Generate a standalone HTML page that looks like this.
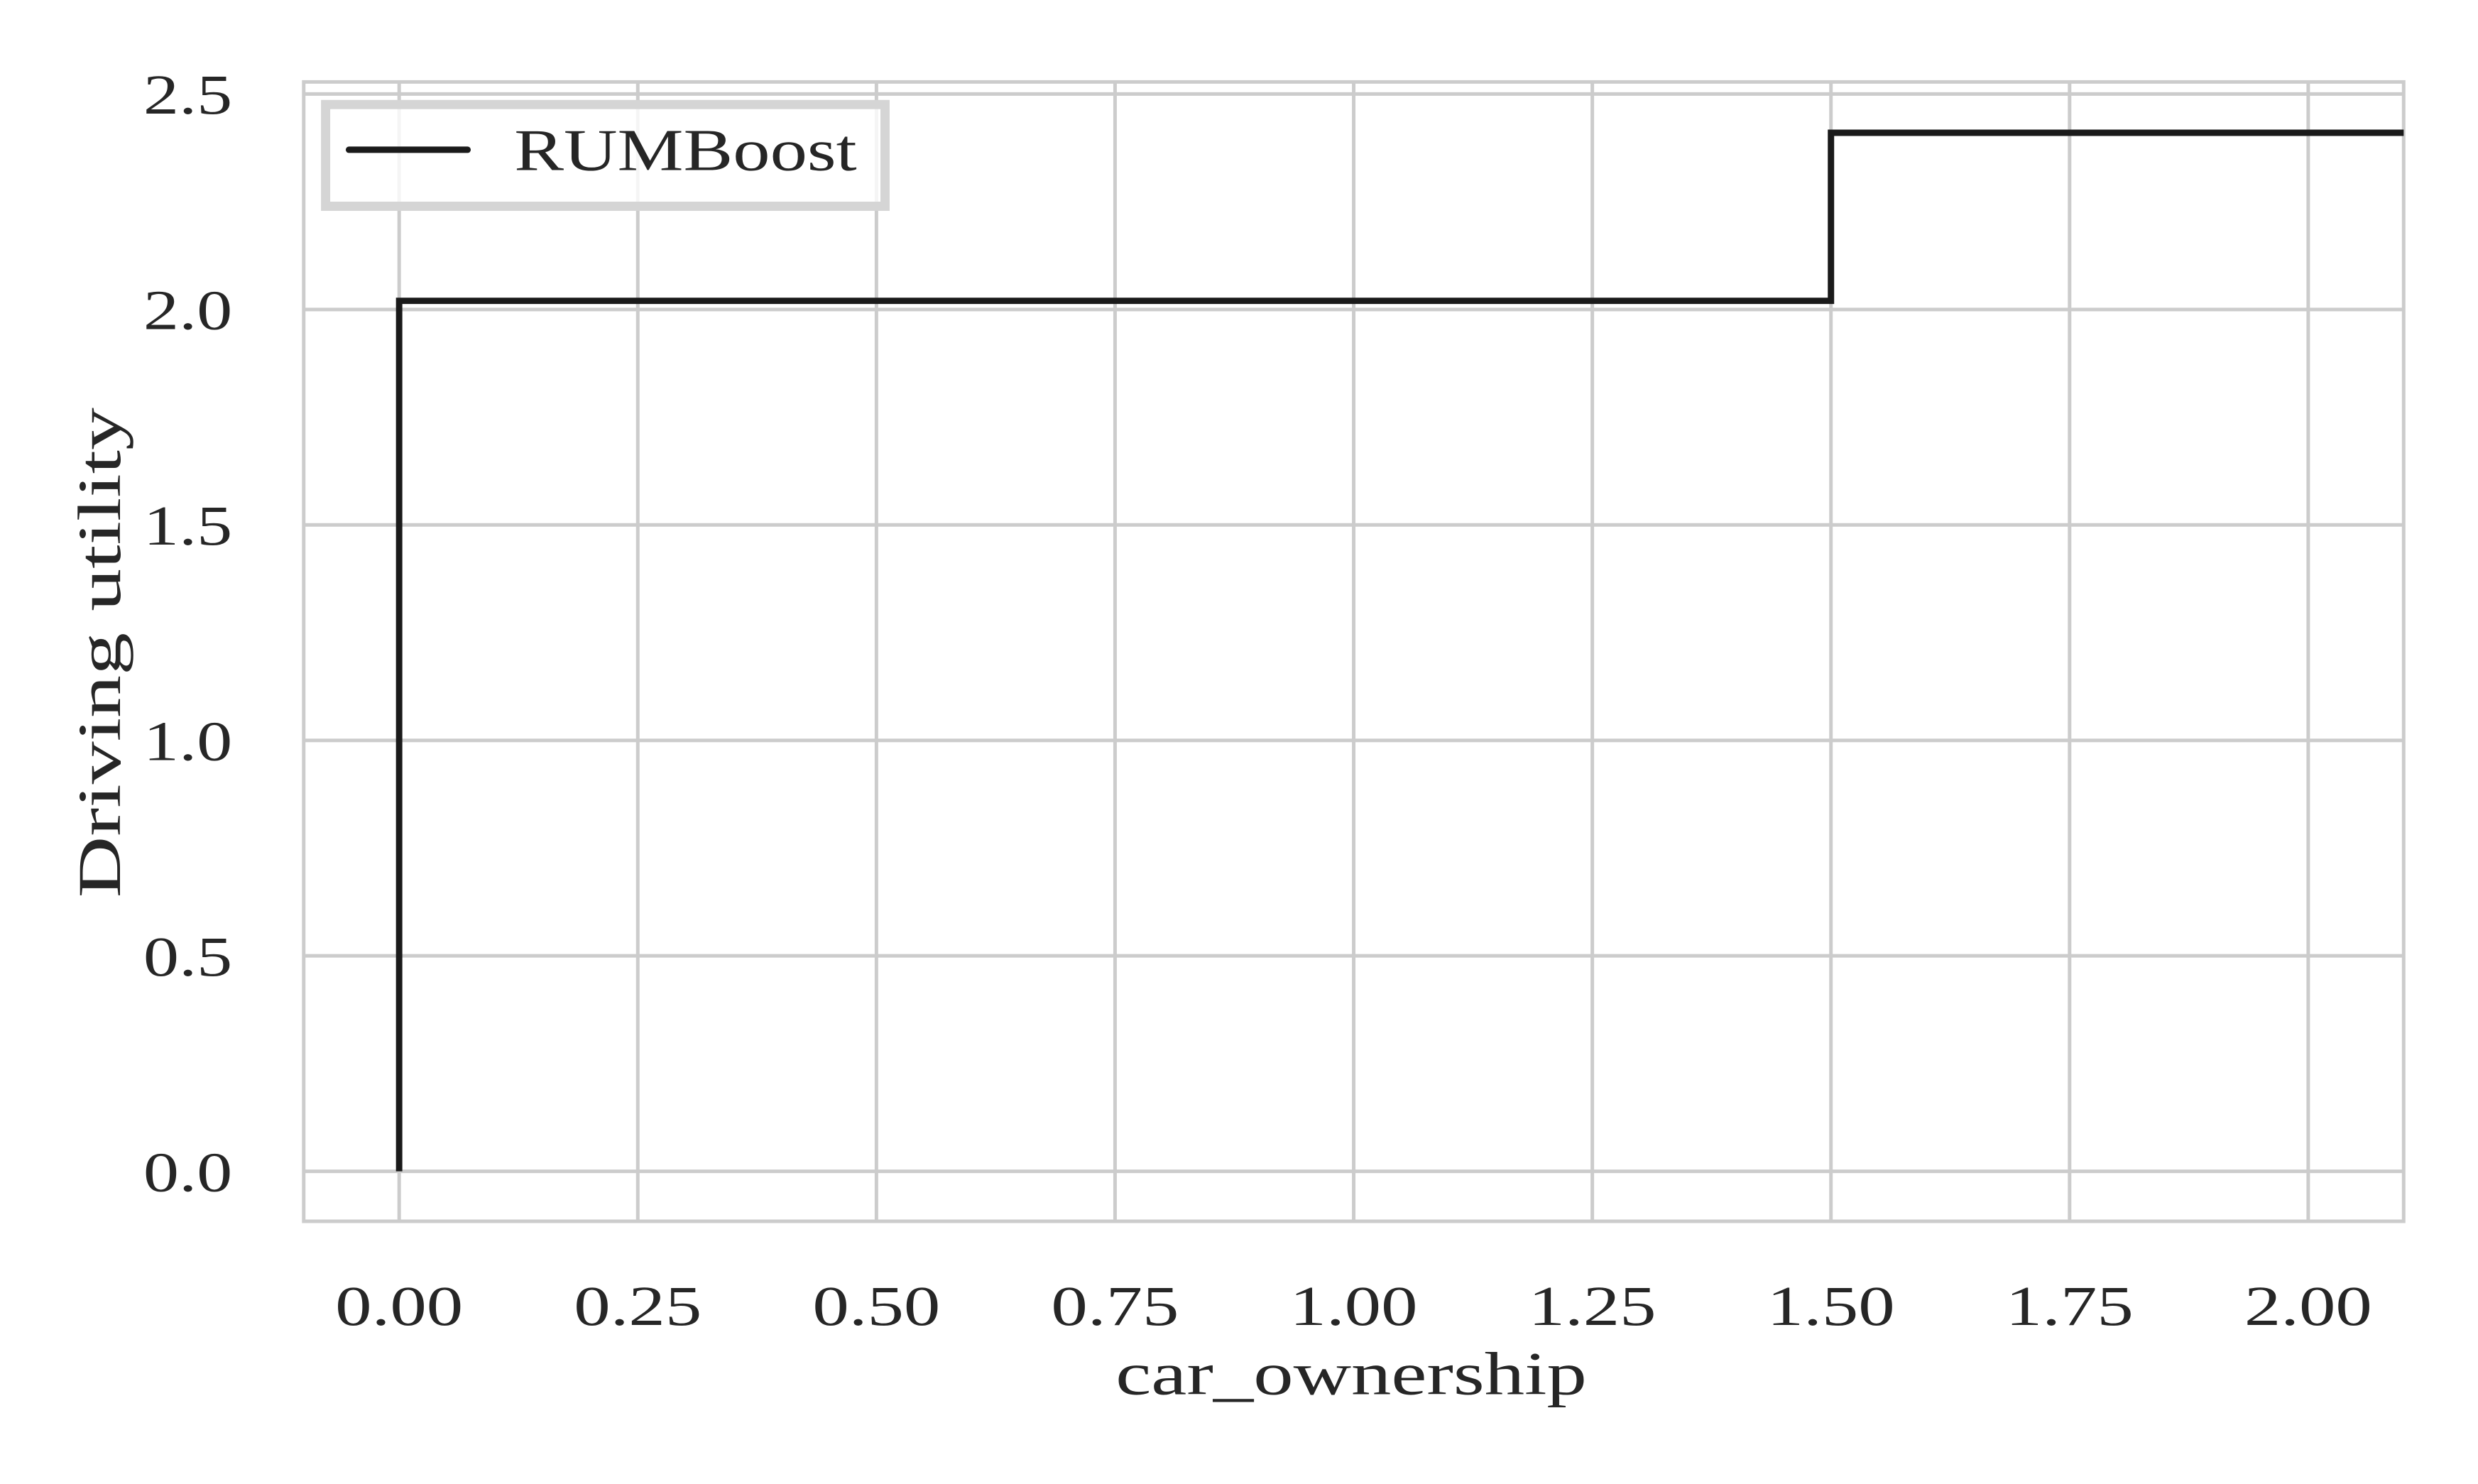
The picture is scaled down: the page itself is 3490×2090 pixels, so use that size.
<!DOCTYPE html>
<html><head><meta charset="utf-8"><style>
html,body{margin:0;padding:0;background:#fff;}
svg{display:block;}
text{font-family:"Liberation Serif",serif;fill:#262626;}
</style></head><body>
<svg id="chart" width="3490" height="2090" viewBox="0 0 3490 2090" xmlns="http://www.w3.org/2000/svg">
<rect x="0" y="0" width="3490" height="2090" fill="#fff"/>
<g transform="scale(0.9948)">
<g id="grid"></g>
<g id="ticks"></g>
<rect x="430" y="116" width="2973" height="1613" fill="none" stroke="#cccccc" stroke-width="5"/>
<path id="series" fill="none" stroke="#1a1a1a" stroke-width="9" stroke-linejoin="miter"/>
<g>
<rect x="461" y="148" width="792" height="144" fill="#fff" fill-opacity="0.8" stroke="#d5d5d5" stroke-width="13"/>
<line x1="494" y1="212" x2="662" y2="212" stroke="#1a1a1a" stroke-width="9" stroke-linecap="round"/>
<text x="728" y="241" font-size="84" textLength="485" lengthAdjust="spacingAndGlyphs">RUMBoost</text>
</g>
<text x="1913" y="1974" font-size="86" text-anchor="middle" textLength="667" lengthAdjust="spacingAndGlyphs">car_ownership</text>
<text transform="translate(170,924) rotate(-90)" x="0" y="0" font-size="86" text-anchor="middle" textLength="694" lengthAdjust="spacingAndGlyphs">Driving utility</text>
</g>
</svg>
<script>
const xTicks = [0, 0.25, 0.5, 0.75, 1.0, 1.25, 1.5, 1.75, 2.0];
const xTickLabels = ["0.00","0.25","0.50","0.75","1.00","1.25","1.50","1.75","2.00"];
const yTicks = [0, 0.5, 1.0, 1.5, 2.0, 2.5];
const yTickLabels = ["0.0","0.5","1.0","1.5","2.0","2.5"];
const stepX = [0, 0, 1.5, 1.5, 2.1];
const stepY = [0, 2.02, 2.02, 2.41, 2.41];
const X0=430,X1=3403,Y0=1729,Y1=116;
const xMin=-0.1,xMax=2.1,yMin=-0.116,yMax=2.528;
function sx(v){return X0+(v-xMin)/(xMax-xMin)*(X1-X0);}
function sy(v){return Y0-(v-yMin)/(yMax-yMin)*(Y0-Y1);}
const NS="http://www.w3.org/2000/svg";
const grid=document.getElementById('grid'), ticks=document.getElementById('ticks');
xTicks.forEach((t,i)=>{
  const l=document.createElementNS(NS,'line');
  l.setAttribute('x1',sx(t));l.setAttribute('x2',sx(t));l.setAttribute('y1',Y1);l.setAttribute('y2',Y0);
  l.setAttribute('stroke','#cccccc');l.setAttribute('stroke-width','5');
  
  
  grid.appendChild(l);
  const tx=document.createElementNS(NS,'text');
  tx.setAttribute('x',sx(t));tx.setAttribute('y',1876);tx.setAttribute('font-size','80');
  tx.setAttribute('text-anchor','middle');tx.setAttribute('textLength','181');tx.setAttribute('lengthAdjust','spacingAndGlyphs');
  tx.textContent=xTickLabels[i];
  
  
  ticks.appendChild(tx);
});
yTicks.forEach((t,i)=>{
  const l=document.createElementNS(NS,'line');
  l.setAttribute('x1',X0);l.setAttribute('x2',X1);l.setAttribute('y1',sy(t));l.setAttribute('y2',sy(t));
  l.setAttribute('stroke','#cccccc');l.setAttribute('stroke-width','5');
  
  
  grid.appendChild(l);
  const tx=document.createElementNS(NS,'text');
  tx.setAttribute('x',329);tx.setAttribute('y',sy(t)+28);tx.setAttribute('font-size','80');
  tx.setAttribute('text-anchor','end');tx.setAttribute('textLength','126');tx.setAttribute('lengthAdjust','spacingAndGlyphs');
  tx.textContent=yTickLabels[i];
  
  
  ticks.appendChild(tx);
});
let d='';
stepX.forEach((v,i)=>{d+=(i?'L':'M')+sx(v).toFixed(1)+' '+sy(stepY[i]).toFixed(1)+' ';});
document.getElementById('series').setAttribute('d',d);
</script>
</body></html>
